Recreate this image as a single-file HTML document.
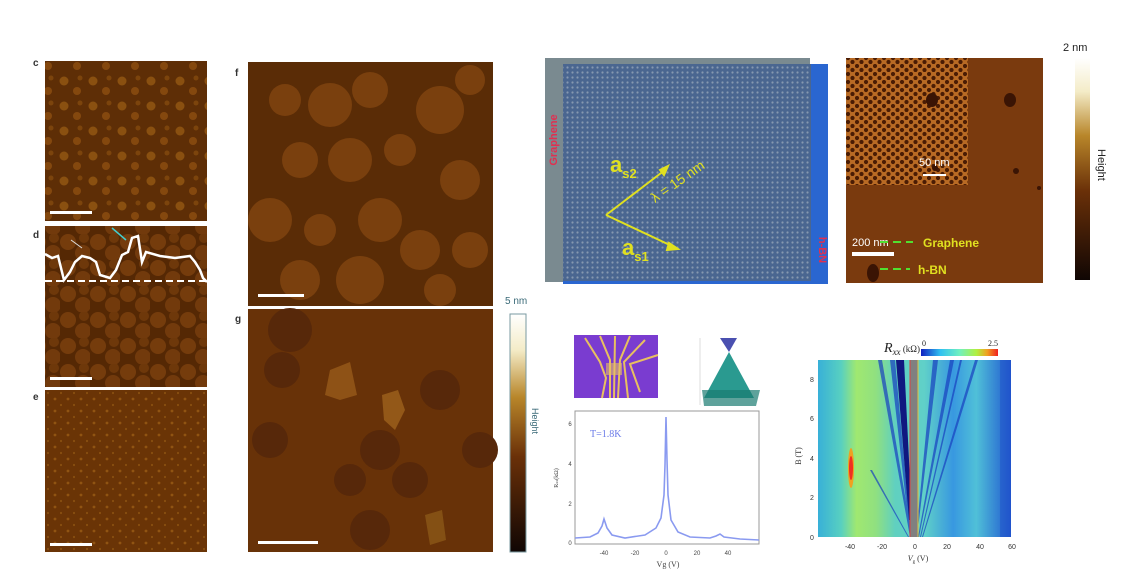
<!DOCTYPE html>
<html><head><meta charset="utf-8"><style>
html,body{margin:0;padding:0;background:#fff}
svg{display:block}
text{font-family:"Liberation Sans",sans-serif}
.s{font-family:"Liberation Serif",serif}
</style></head><body>
<svg width="1141" height="585" viewBox="0 0 1141 585" xmlns="http://www.w3.org/2000/svg">
<defs>
<pattern id="pc" width="29" height="25" patternUnits="userSpaceOnUse">
<rect width="29" height="25" fill="#5e2e06"/>
<circle cx="6" cy="6" r="4.5" fill="#8a5010"/><circle cx="19" cy="16" r="4" fill="#84480e"/><circle cx="22" cy="3" r="2.5" fill="#7c440c"/>
</pattern>
<pattern id="pd" width="30" height="26" patternUnits="userSpaceOnUse">
<rect width="30" height="26" fill="#552804"/>
<circle cx="8" cy="8" r="8" fill="#753c0c"/><circle cx="23" cy="19" r="8" fill="#723a0c"/><circle cx="24" cy="4" r="5" fill="#6e380a"/>
</pattern>
<pattern id="pe" width="13" height="12" patternUnits="userSpaceOnUse">
<rect width="13" height="12" fill="#6a3406"/><circle cx="3" cy="3" r="1.4" fill="#905412"/><circle cx="9" cy="9" r="1.1" fill="#884e10"/>
</pattern>
<pattern id="pm" width="5" height="5" patternUnits="userSpaceOnUse">
<rect width="5" height="5" fill="#4a6690"/><circle cx="2.5" cy="2.5" r="1.1" fill="#8698b0"/>
</pattern>
<pattern id="pi" width="9" height="8" patternUnits="userSpaceOnUse">
<rect width="9" height="8" fill="#b86a24"/><circle cx="2" cy="2" r="2.1" fill="#4a1c04"/><circle cx="6.5" cy="6" r="2.1" fill="#4a1c04"/>
</pattern>
<linearGradient id="cb1" x1="0" y1="0" x2="0" y2="1">
<stop offset="0" stop-color="#ffffff"/><stop offset="0.15" stop-color="#f4ecc8"/><stop offset="0.35" stop-color="#b8862a"/><stop offset="0.6" stop-color="#6a3008"/><stop offset="1" stop-color="#100604"/></linearGradient>
<linearGradient id="cb2" x1="0" y1="0" x2="1" y2="0">
<stop offset="0" stop-color="#1020c0"/><stop offset="0.25" stop-color="#30c0f0"/><stop offset="0.5" stop-color="#70f0c0"/><stop offset="0.72" stop-color="#b0f040"/><stop offset="0.86" stop-color="#f0a020"/><stop offset="1" stop-color="#f02020"/></linearGradient>
<linearGradient id="bg2" x1="0" y1="0" x2="1" y2="0">
<stop offset="0" stop-color="#38b0d8"/><stop offset="0.12" stop-color="#58d0c0"/><stop offset="0.2" stop-color="#a0e870"/><stop offset="0.3" stop-color="#90e080"/><stop offset="0.4" stop-color="#60d0c0"/><stop offset="0.55" stop-color="#60d0c8"/><stop offset="0.7" stop-color="#3898e0"/><stop offset="0.82" stop-color="#50c0d8"/><stop offset="1" stop-color="#2058d0"/></linearGradient>
</defs>

<!-- c,d,e -->
<text x="33" y="66" font-size="10" font-weight="bold" fill="#333">c</text>
<rect x="45" y="61" width="162" height="160" fill="url(#pc)"/>
<rect x="50" y="211" width="42" height="3" fill="#fff"/>
<text x="33" y="238" font-size="10" font-weight="bold" fill="#333">d</text>
<rect x="45" y="226" width="162" height="161" fill="url(#pd)"/>
<line x1="45" y1="281" x2="207" y2="281" stroke="#fff" stroke-width="2" stroke-dasharray="7,4"/>
<polyline points="45,254 52,258 58,256 64,280 70,272 75,262 82,256 90,258 96,262 100,275 110,278 116,270 122,255 128,252 132,238 138,236 142,262 146,252 160,256 175,258 190,256 195,262 200,270 203,278 207,282" fill="none" stroke="#fff" stroke-width="2.5"/>
<line x1="71" y1="240" x2="82" y2="248" stroke="#ddd" stroke-width="1"/>
<line x1="112" y1="228" x2="126" y2="240" stroke="#4cc" stroke-width="1.5"/>
<rect x="50" y="377" width="42" height="3" fill="#fff"/>
<text x="33" y="400" font-size="10" font-weight="bold" fill="#333">e</text>
<rect x="45" y="390" width="162" height="162" fill="url(#pe)"/>
<rect x="50" y="543" width="42" height="3" fill="#fff"/>

<!-- f,g -->
<text x="235" y="76" font-size="10" font-weight="bold" fill="#333">f</text>
<rect x="248" y="62" width="245" height="244" fill="#5a2c06"/>
<g fill="#7a400e">
<circle cx="285" cy="100" r="16"/><circle cx="330" cy="105" r="22"/><circle cx="370" cy="90" r="18"/><circle cx="440" cy="110" r="24"/><circle cx="470" cy="80" r="15"/>
<circle cx="300" cy="160" r="18"/><circle cx="350" cy="160" r="22"/><circle cx="400" cy="150" r="16"/><circle cx="460" cy="180" r="20"/>
<circle cx="270" cy="220" r="22"/><circle cx="320" cy="230" r="16"/><circle cx="380" cy="220" r="22"/><circle cx="420" cy="250" r="20"/><circle cx="470" cy="250" r="18"/>
<circle cx="300" cy="280" r="20"/><circle cx="360" cy="280" r="24"/><circle cx="440" cy="290" r="16"/>
</g>
<rect x="258" y="294" width="46" height="3" fill="#fff"/>
<text x="235" y="322" font-size="10" font-weight="bold" fill="#333">g</text>
<rect x="248" y="309" width="245" height="243" fill="#683208"/>
<g fill="#57280a"><circle cx="290" cy="330" r="22"/><circle cx="282" cy="370" r="18"/><circle cx="270" cy="440" r="18"/><circle cx="380" cy="450" r="20"/><circle cx="350" cy="480" r="16"/><circle cx="410" cy="480" r="18"/><circle cx="370" cy="530" r="20"/><circle cx="440" cy="390" r="20"/><circle cx="480" cy="450" r="18"/></g>
<polygon points="330,370 350,362 357,395 340,400 325,395" fill="#8e5216"/>
<polygon points="382,395 398,390 405,410 395,430 384,420" fill="#935818"/>
<polygon points="425,515 442,510 446,540 430,545" fill="#845014"/>
<rect x="258" y="541" width="60" height="3" fill="#fff"/>
<text x="505" y="304" font-size="10" fill="#3a6a78">5 nm</text>
<rect x="510" y="314" width="16" height="238" fill="url(#cb1)" stroke="#7a9aa0" stroke-width="1"/>
<text transform="translate(532,408) rotate(90)" font-size="9" fill="#3a6a78">Height</text>

<!-- moire -->
<rect x="545" y="58" width="265" height="224" fill="#7a8a90"/>
<rect x="563" y="64" width="265" height="220" fill="#2a66d0"/>
<rect x="563" y="64" width="248" height="217" fill="url(#pm)"/>
<text transform="translate(557,140) rotate(-90)" font-size="11" font-weight="bold" fill="#e03050" text-anchor="middle">Graphene</text>
<text transform="translate(819,250) rotate(90)" font-size="11" font-weight="bold" fill="#e03050" text-anchor="middle">h-BN</text>
<g stroke="#e0e020" stroke-width="2" fill="#e0e020">
<line x1="606" y1="215" x2="665" y2="170"/><polygon points="668,166 660,170 664,175"/>
<line x1="606" y1="215" x2="674" y2="247"/><polygon points="678,249 669,243 667,250"/>
</g>
<text x="610" y="172" font-size="22" font-weight="bold" fill="#e0e020">a<tspan font-size="13" dy="6">s2</tspan></text>
<text x="622" y="255" font-size="22" font-weight="bold" fill="#e0e020">a<tspan font-size="13" dy="6">s1</tspan></text>
<text transform="translate(655,203) rotate(-35)" font-size="14" fill="#e0e020">λ = 15 nm</text>

<!-- AFM top right -->
<rect x="846" y="58" width="197" height="225" fill="#7a3a0e"/>
<rect x="846" y="58" width="122" height="127" fill="url(#pi)"/>
<ellipse cx="932" cy="100" rx="6" ry="7" fill="#3a1404"/>
<ellipse cx="935" cy="168" rx="3" ry="3" fill="#3a1404"/>
<ellipse cx="1010" cy="100" rx="6" ry="7" fill="#3a1404"/>
<ellipse cx="1016" cy="171" rx="3" ry="3" fill="#3a1404"/>
<ellipse cx="1039" cy="188" rx="2" ry="2" fill="#3a1404"/>
<ellipse cx="873" cy="273" rx="6" ry="9" fill="#3a1404"/>
<text x="919" y="166" font-size="11" fill="#fff">50 nm</text>
<rect x="923" y="174" width="23" height="2" fill="#fff"/>
<text x="852" y="246" font-size="11" fill="#fff">200 nm</text>
<rect x="852" y="252" width="42" height="4" fill="#fff"/>
<line x1="880" y1="242" x2="913" y2="242" stroke="#50e030" stroke-width="2" stroke-dasharray="8,5"/>
<text x="923" y="247" font-size="12" font-weight="bold" fill="#e0e020">Graphene</text>
<line x1="880" y1="269" x2="910" y2="269" stroke="#50e030" stroke-width="2" stroke-dasharray="8,5"/>
<text x="918" y="274" font-size="12" font-weight="bold" fill="#e0e020">h-BN</text>
<text x="1063" y="51" font-size="11" fill="#222">2 nm</text>
<rect x="1075" y="58" width="15" height="222" fill="url(#cb1)"/>
<text transform="translate(1098,149) rotate(90)" font-size="11" fill="#222">Height</text>

<!-- optical + cone -->
<rect x="574" y="335" width="84" height="63" fill="#7a3cd0"/>
<g stroke="#e8c060" stroke-width="2" fill="none">
<path d="M585,338 L600,362 L606,378 L602,398"/><path d="M600,336 L610,360 L610,398"/><path d="M615,336 L614,398"/>
<path d="M630,336 L620,360 L618,398"/><path d="M645,340 L624,362 L628,398"/><path d="M658,355 L630,364 L640,392"/>
</g>
<rect x="606" y="363" width="16" height="12" fill="#e8c060" opacity="0.6"/>
<polygon points="720,338 737,338 729,352" fill="#4a50b0"/>
<polygon points="729,352 704,398 754,398" fill="#2a9a90"/>
<polygon points="702,390 760,390 756,406 704,406" fill="#1a7a70" opacity="0.7"/>
<line x1="700" y1="338" x2="700" y2="405" stroke="#bbb" stroke-width="0.5"/>

<!-- Rxx vs Vg -->
<rect x="575" y="411" width="184" height="133" fill="#fff" stroke="#999" stroke-width="1"/>
<g font-size="6" fill="#444" class="s" text-anchor="middle">
<text x="604" y="555">-40</text><text x="635" y="555">-20</text><text x="666" y="555">0</text><text x="697" y="555">20</text><text x="728" y="555">40</text>
<text x="570" y="545">0</text><text x="570" y="506">2</text><text x="570" y="466">4</text><text x="570" y="426">6</text>
</g>
<text x="668" y="567" font-size="8" class="s" fill="#444" text-anchor="middle">Vg (V)</text>
<text transform="translate(558,478) rotate(-90)" font-size="6" class="s" fill="#444" text-anchor="middle">R<tspan font-size="4">xx</tspan>(kΩ)</text>
<text x="590" y="437" font-size="10" class="s" fill="#6a7ae8">T=1.8K</text>
<path d="M575,538 L590,537 L598,533 L602,526 L604,519 L607,528 L612,535 L625,538 L645,535 L656,528 L661,518 L664,495 L665,465 L666,417 L667,460 L668,495 L671,520 L678,532 L690,537 L710,538 L716,536 L720,534 L724,537 L740,539 L759,540" fill="none" stroke="#8a9af0" stroke-width="1.6"/>

<!-- Landau fan -->
<text x="920" y="352" font-size="14" font-style="italic" class="s" fill="#222" text-anchor="end">R<tspan font-size="9" dy="3">xx</tspan><tspan font-size="9" font-style="normal" dy="-3"> (kΩ)</tspan></text>
<text x="922" y="346" font-size="8" class="s" fill="#222">0</text>
<text x="988" y="346" font-size="8" class="s" fill="#222">2.5</text>
<rect x="921" y="349" width="77" height="7" fill="url(#cb2)"/>
<rect x="818" y="360" width="193" height="177" fill="url(#bg2)"/>
<g fill="#1840c0" opacity="0.7">
<polygon points="910,537 878,360 882,360 912,537"/><polygon points="910,537 890,360 895,360 911,537"/>
<polygon points="916,537 933,360 938,360 917,537"/><polygon points="918,537 950,360 954,360 919,537"/>
<polygon points="920,537 960,360 962,360 921,537"/><polygon points="922,537 975,360 978,360 923,537"/>
<polygon points="908,537 870,470 872,470 909,537"/>
</g>
<polygon points="896,360 904,360 912,520 909,520" fill="#101880"/>
<rect x="910" y="360" width="8" height="177" fill="#808080"/>
<line x1="910" y1="360" x2="910" y2="537" stroke="#e04040" stroke-width="1"/>
<line x1="918" y1="360" x2="918" y2="537" stroke="#e0c040" stroke-width="1"/>
<ellipse cx="851" cy="468" rx="3" ry="20" fill="#f0a020"/>
<ellipse cx="851" cy="468" rx="2" ry="12" fill="#f03020"/>
<rect x="1000" y="360" width="11" height="177" fill="#2050c8" opacity="0.5"/>
<g font-size="7" class="s" fill="#333" text-anchor="middle">
<text x="850" y="549">-40</text><text x="882" y="549">-20</text><text x="915" y="549">0</text><text x="947" y="549">20</text><text x="980" y="549">40</text><text x="1012" y="549">60</text>
<text x="812" y="540">0</text><text x="812" y="500">2</text><text x="812" y="461">4</text><text x="812" y="421">6</text><text x="812" y="382">8</text>
</g>
<text x="918" y="561" font-size="8" class="s" fill="#333" text-anchor="middle"><tspan font-style="italic">V</tspan><tspan font-size="5" dy="2">g</tspan><tspan dy="-2"> (V)</tspan></text>
<text transform="translate(801,456) rotate(-90)" font-size="8" class="s" fill="#333" text-anchor="middle">B (T)</text>
</svg>
</body></html>
